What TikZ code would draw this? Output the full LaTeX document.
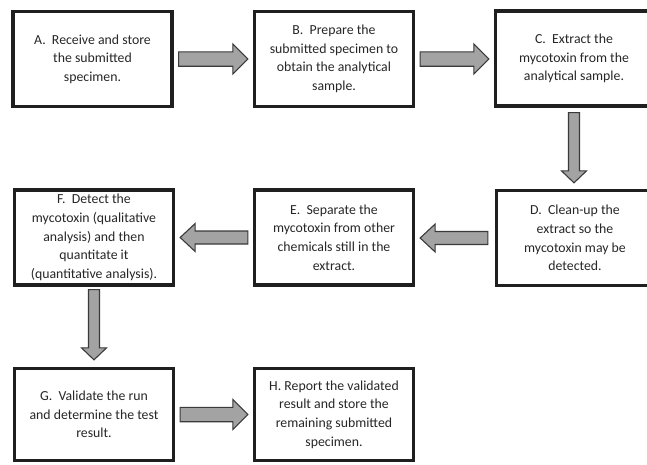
\documentclass[tikz,border=0pt]{standalone}
\usepackage{fontspec}
\setmainfont{Carlito}
\usetikzlibrary{calc}
\definecolor{txtc}{HTML}{262626}
\definecolor{arrfill}{HTML}{A3A3A3}
\definecolor{arrline}{HTML}{3A3A3A}
\newcommand\fatarr[5]{%
  \coordinate (hb) at ($(#2)!#5!(#1)$);
  \draw[fatarrow] ($(#1)!#3!90:(#2)$) -- ($(hb)!#3!90:(#2)$) -- ($(hb)!#4!90:(#2)$)
    -- (#2) -- ($(hb)!#4!-90:(#2)$) -- ($(hb)!#3!-90:(#2)$) -- ($(#1)!#3!-90:(#2)$) -- cycle;
}
\tikzset{
  stepbox/.style={draw=black!88, line width=3.3pt, minimum width=159pt, minimum height=95pt,
    align=center, text=txtc, inner sep=0pt,
    font=\fontsize{13.8pt}{18.6pt}\selectfont},
  fatarrow/.style={fill=arrfill, draw=arrline, line width=1.1pt, line join=miter},
}
\begin{document}
\begin{tikzpicture}[x=1pt,y=-1pt]
\useasboundingbox (0,0) rectangle (647,464);
\begin{scope}
\clip (0,0) rectangle (647,464);
\node[stepbox] (a) at (92.5,59) {A.\ \ Receive and store\\the submitted\\specimen.};
\node[stepbox] (b) at (334,59) {B.\ \ Prepare the\\submitted specimen to\\obtain the analytical\\sample.};
\node[stepbox, minimum width=157pt] (c) at (574,58.5) {C.\ \ Extract the\\mycotoxin from the\\analytical sample.};
\node[stepbox, minimum width=157pt] (d) at (575,238) {D.\ \ Clean-up the\\extract so the\\mycotoxin may be\\detected.};
\node[stepbox] (e) at (334,237.5) {E.\ \ Separate the\\mycotoxin from other\\chemicals still in the\\extract.};
\node[stepbox] (f) at (94,237.5) {F.\ \ Detect the\\mycotoxin (qualitative\\analysis) and then\\quantitate it\\(quantitative analysis).};
\node[stepbox, minimum height=92pt] (g) at (94,414.5) {G.\ \ Validate the run\\and determine the test\\result.};
\node[stepbox, minimum height=92pt] (h) at (334,414.5) {H. Report the validated\\result and store the\\remaining submitted\\specimen.};
\end{scope}
% connectors
\coordinate (ab1) at ($(a.east)+(5,0)$);
\coordinate (ab2) at ($(a.east -| b.west)+(-5,0)$);
\fatarr{ab1}{ab2}{7.2pt}{15pt}{15pt}
\coordinate (bc1) at ($(b.east)+(5,0)$);
\coordinate (bc2) at ($(b.east -| c.west)+(-5,0)$);
\fatarr{bc1}{bc2}{7.2pt}{15pt}{15pt}
\coordinate (cd1) at ($(c.south)+(0,5)$);
\coordinate (cd2) at ($(c.south |- d.north)+(0,-6)$);
\fatarr{cd1}{cd2}{5.5pt}{12.5pt}{12pt}
\coordinate (de1) at ($(d.west)+(-7,0)$);
\coordinate (de2) at ($(d.west -| e.east)+(5,0)$);
\fatarr{de1}{de2}{6.5pt}{14pt}{15pt}
\coordinate (ef1) at ($(e.west)+(-5,0)$);
\coordinate (ef2) at ($(e.west -| f.east)+(5,0)$);
\fatarr{ef1}{ef2}{6.5pt}{14pt}{15pt}
\coordinate (fg1) at ($(f.south)+(0,3)$);
\coordinate (fg2) at ($(f.south |- g.north)+(0,-7)$);
\fatarr{fg1}{fg2}{5.5pt}{12.5pt}{12pt}
\coordinate (gh1) at ($(g.east)+(5,0)$);
\coordinate (gh2) at ($(g.east -| h.west)+(-5,0)$);
\fatarr{gh1}{gh2}{7.2pt}{15pt}{15pt}
\end{tikzpicture}
\end{document}
